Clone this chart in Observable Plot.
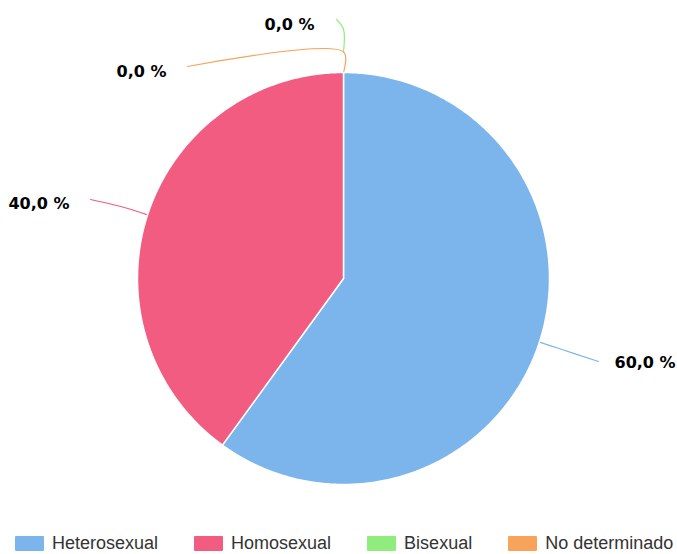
<!DOCTYPE html>
<html><head><meta charset="utf-8">
<script src="https://cdn.jsdelivr.net/npm/d3@7"></script>
<script src="https://cdn.jsdelivr.net/npm/@observablehq/plot@0.6"></script>
<style>
body{margin:0;background:#fff;width:677px;height:554px;overflow:hidden;position:relative;}
#legend{position:absolute;left:15px;top:533px;height:21px;display:flex;align-items:center;column-gap:36px;font-family:"Liberation Sans",sans-serif;font-size:18px;color:#333;white-space:nowrap;}
.item{display:flex;align-items:center;column-gap:8px;}
.sw{width:29px;height:15px;border-radius:1px;}
</style></head><body><div id="chart"></div><div id="legend"></div>
<script>
// ---- data ----
const categories = ["Heterosexual", "Homosexual", "Bisexual", "No determinado"];
const values = [60, 40, 0, 0];
const labels = ["60,0 %", "40,0 %", "0,0 %", "0,0 %"];
const colors = ["#7cb5ec", "#f15c80", "#90ed7d", "#f7a35c"];

// ---- layout (pixels) ----
const W = 677, H = 526, CX = 343, CY = 278, R = 206;
const toU = ([px, py]) => ({x: (px - CX) / R, y: (CY - py) / R});
// leader lines: radial start radius, elbow radius, end point; label placement
const labelLayout = [
  {r0: 1.0, r1: 1.1, end: [598, 361], text: [614, 362], anchor: "start"},
  {r0: 1.0, r1: 1.1, end: [90, 199], text: [69, 203], anchor: "end"},
  {r0: 1.1, r1: 1.21, end: [336, 19], text: [314, 24], anchor: "end"},
  {r0: 1.0, r1: 1.1, end: [187, 66], text: [166, 71], anchor: "end"}
];

const arcs = d3.pie().sort(null).value(d => d)(values);
const slicePts = [];
arcs.forEach((a, i) => {
  if (a.endAngle - a.startAngle <= 0) return;
  const n = Math.max(2, Math.ceil((a.endAngle - a.startAngle) / 0.01));
  slicePts.push({x: 0, y: 0, cat: categories[i]});
  for (let k = 0; k <= n; k++) {
    const t = a.startAngle + (a.endAngle - a.startAngle) * k / n;
    slicePts.push({x: Math.sin(t), y: Math.cos(t), cat: categories[i]});
  }
  slicePts.push({x: 0, y: 0, cat: categories[i]});
});

const linePts = [], textPts = [];
arcs.forEach((a, i) => {
  const L = labelLayout[i];
  const m = (a.startAngle + a.endAngle) / 2;
  linePts.push({x: L.r0 * Math.sin(m), y: L.r0 * Math.cos(m), cat: categories[i]});
  linePts.push({x: L.r1 * Math.sin(m), y: L.r1 * Math.cos(m), cat: categories[i]});
  linePts.push({...toU(L.end), cat: categories[i]});
  textPts.push({...toU(L.text), label: labels[i], anchor: L.anchor});
});

const textStyle = {x: "x", y: "y", text: "label", fontFamily: "DejaVu Sans", fontWeight: "bold", fontSize: 16, fill: "#000", stroke: "#fff", strokeWidth: 3};
const chart = Plot.plot({
  width: W, height: H, margin: 0,
  x: {domain: [-CX / R, (W - CX) / R], range: [0, W], axis: null},
  y: {domain: [(CY - H) / R, CY / R], range: [H, 0], axis: null},
  color: {domain: categories, range: colors},
  style: {background: "#fff"},
  marks: [
    Plot.line(linePts, {x: "x", y: "y", z: "cat", stroke: "cat", strokeWidth: 1.2, curve: "catmull-rom"}),
    Plot.line(slicePts, {x: "x", y: "y", z: "cat", fill: "cat", stroke: "#fff", strokeWidth: 1.5, strokeLinejoin: "round"}),
    Plot.text(textPts.filter(d => d.anchor === "start"), {...textStyle, textAnchor: "start"}),
    Plot.text(textPts.filter(d => d.anchor === "end"), {...textStyle, textAnchor: "end"})
  ]
});
document.getElementById("chart").appendChild(chart);

const leg = document.getElementById("legend");
categories.forEach((c, i) => {
  const it = document.createElement("div"); it.className = "item";
  const sw = document.createElement("div"); sw.className = "sw"; sw.style.background = colors[i];
  const tx = document.createElement("span"); tx.textContent = c;
  it.appendChild(sw); it.appendChild(tx); leg.appendChild(it);
});
</script></body></html>
